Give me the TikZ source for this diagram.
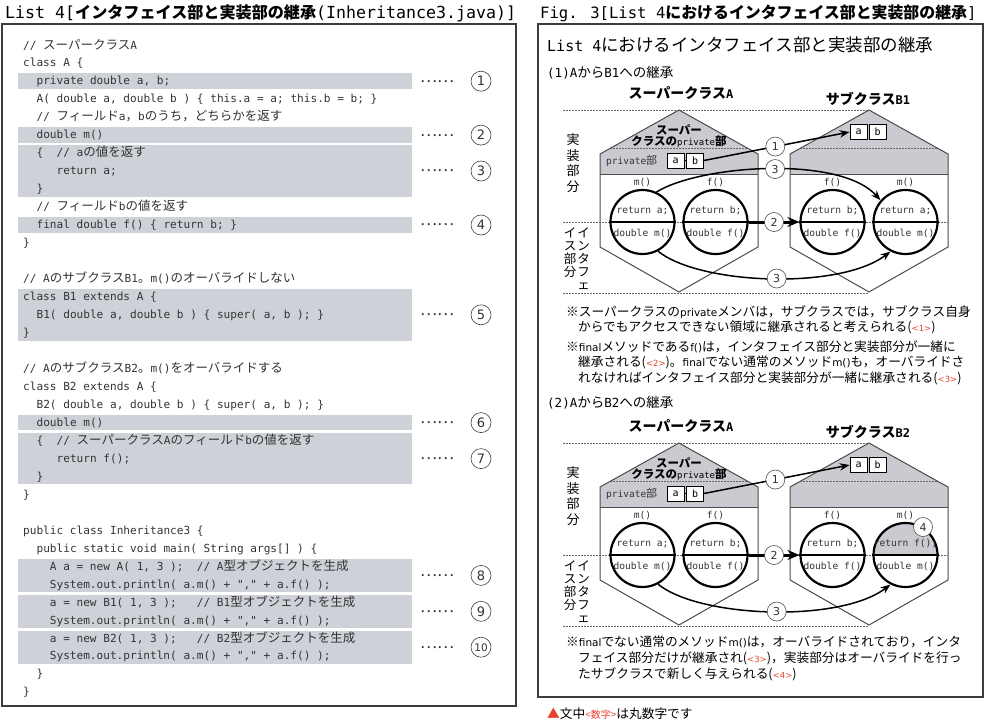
\documentclass[tikz,border=0pt]{standalone}
\usepackage{fontspec}
\setmainfont{DejaVu Sans}
\newfontfamily\cjk{Noto Sans CJK JP}
\newfontfamily\mono{DejaVu Sans Mono}
\newfontfamily\sansf{DejaVu Sans}
\usetikzlibrary{arrows.meta}
\definecolor{codec}{HTML}{333333}
\definecolor{barc}{HTML}{CED1D8}
\definecolor{roofc}{HTML}{C9CBD0}
\definecolor{redc}{HTML}{E8412C}
\definecolor{framec}{HTML}{3C3C3C}
\newcommand\J[1]{{\cjk\fontsize{12.5}{12.5}\selectfont #1}}
\newcommand\JT[1]{{\cjk\bfseries\fontsize{16.1}{16.1}\selectfont #1}}
\newcommand\JTR[1]{{\cjk\bfseries\fontsize{15.9}{15.9}\selectfont #1}}
\newcommand\JI[1]{{\cjk\fontsize{17.5}{17.5}\selectfont #1}}
\newcommand\JS[1]{{\cjk\fontsize{13.5}{13.5}\selectfont #1}}
\newcommand\JP[1]{{\cjk\fontsize{11}{11}\selectfont #1}}
\newcommand\M[1]{{\sansf\fontsize{10.5}{12}\selectfont #1}}
\newcommand\RR[1]{{\sansf\fontsize{8.5}{10}\selectfont\color{redc}#1}}
\newcommand\housepath[1]{({#1-79},154) -- (#1,110) -- ({#1+79},154) -- ({#1+79},247) -- (#1,292) -- ({#1-79},247) -- cycle}
\tikzset{
 code/.style={anchor=base west, inner sep=0pt, text=codec, font=\mono\fontsize{11.1}{13}\selectfont},
 bar/.style={fill=barc, draw=none},
 cnum/.style={circle, draw=black!75, line width=0.6pt, minimum size=20pt, inner sep=0pt, font=\sansf\fontsize{13}{13}\selectfont, text=codec},
 leader/.style={inner sep=0pt, font=\cjk\fontsize{16}{16}\selectfont, text=codec},
 guide/.style={draw=black!60, line width=0.6pt, dash pattern=on 1.6pt off 1.4pt},
 houseline/.style={draw=black!70, line width=1pt},
 cir/.style={circle, draw=black, line width=2.2pt, minimum size=64pt, inner sep=0pt},
 ctext/.style={inner sep=0pt, font=\mono\fontsize{9.6}{10}\selectfont, text=codec},
 vbox/.style={draw=black, fill=white, line width=0.9pt, minimum width=17pt, minimum height=15pt, inner sep=0pt, font=\mono\fontsize{10}{10}\selectfont},
 dnum/.style={circle, draw=black!70, fill=white, line width=0.6pt, minimum size=19pt, inner sep=0pt, font=\sansf\fontsize{11}{11}\selectfont, text=codec},
 arr/.style={line width=1.5pt, -{Stealth[length=10pt,width=7.5pt]}},
 arrb/.style={line width=3pt, -{Stealth[length=12pt,width=10pt]}},
 note/.style={anchor=base west, inner sep=0pt, font=\cjk\fontsize{12.7}{14}\selectfont, text=black},
 hdr/.style={inner sep=0pt, font=\cjk\bfseries\fontsize{14}{14}\selectfont},
 rooft/.style={inner sep=0pt, font=\cjk\bfseries\fontsize{11.5}{11.5}\selectfont},
 ttl/.style={anchor=base west, inner sep=0pt, font=\mono\fontsize{15}{15}\selectfont},
}
\newcommand\drawdiag[4]{%
 \draw[guide] (563,110) -- (868,110);
 \draw[guide] (563,293) -- (868,293);
 \fill[white] \housepath{679};
 \fill[white] \housepath{869};
 \begin{scope}
  \clip \housepath{679};
  \fill[roofc] (595,105) rectangle (765,174);
  \draw[guide] (595,148) -- (765,148);
 \end{scope}
 \begin{scope}
  \clip \housepath{869};
  \fill[roofc] (785,105) rectangle (955,174);
  \draw[guide] (785,148) -- (955,148);
 \end{scope}
 \draw[houseline] (600,174) -- (758,174);
 \draw[houseline] (790,174) -- (948,174);
 \draw[houseline] \housepath{679};
 \draw[houseline] \housepath{869};
 \draw[guide] (563,222) -- (948,222);
 #4
 \node[cir] (#1Lm) at (642.5,222) {};
 \node[cir] (#1Lf) at (715.5,222) {};
 \node[cir] (#1Rf) at (832.5,222) {};
 \node[cir] (#1Rm) at (905.5,222) {};
 \draw[line width=2.2pt] (#1Lm.west) -- (#1Lm.east);
 \draw[line width=2.2pt] (#1Lf.west) -- (#1Lf.east);
 \draw[line width=2.2pt] (#1Rf.west) -- (#1Rf.east);
 \draw[line width=2.2pt] (#1Rm.west) -- (#1Rm.east);
 \node[ctext] (#1Lmt) at (642.5,211) {return a;};
 \node[ctext] (#1Lmb) at (642.5,233) {double m()};
 \node[ctext] (#1Lft) at (715.5,211) {return b;};
 \node[ctext] (#1Lfb) at (715.5,233) {double f()};
 \node[ctext] (#1Rft) at (832.5,211) {return b;};
 \node[ctext] (#1Rfb) at (832.5,233) {double f()};
 \node[ctext] (#1Rmt) at (905.5,211) {#3};
 \node[ctext] (#1Rmb) at (905.5,233) {double m()};
 \node[ctext] (#1Lml) at (642.5,182) {m()};
 \node[ctext] (#1Lfl) at (715.5,182) {f()};
 \node[ctext] (#1Rfl) at (832.5,182) {f()};
 \node[ctext] (#1Rml) at (905.5,182) {m()};
 \node[anchor=west, inner sep=0pt, text=codec, font=\mono\fontsize{9.5}{10}\selectfont] (#1pl) at (606,161) {private\JP{部}};
 \node[vbox] (#1pa) at (675.5,160.5) {a};
 \node[vbox] (#1pb) at (695,160.5) {b};
 \draw[line width=0.8pt] (#1pa.east) -- (#1pb.west);
 \node[vbox] (#1sa) at (858.5,132) {a};
 \node[vbox] (#1sb) at (877.5,132) {b};
 \node[rooft] (#1r1) at (679,130) {スーパー};
 \node[rooft] (#1r2) at (679,142) {クラスの{\mono\mdseries\fontsize{9}{9}\selectfont private}部};
 \node[hdr] (#1hA) at (681,93) {スーパークラス{\mono\bfseries\fontsize{12}{12}\selectfont A}};
 \node[hdr] (#1hB) at (868,99) {サブクラス{\mono\bfseries\fontsize{12}{12}\selectfont #2}};
 \node[inner sep=0pt, align=center, font=\cjk\fontsize{13}{15.6}\selectfont] (#1v1) at (573,163) {実\\装\\部\\分};
 \node[inner sep=0pt, align=center, font=\cjk\fontsize{12.5}{13}\selectfont] (#1v2) at (583.5,259) {イ\\ン\\タ\\フ\\ェ};
 \node[inner sep=0pt, align=center, font=\cjk\fontsize{12.5}{13}\selectfont] (#1v3) at (570,252.5) {イ\\ス\\部\\分};
 \draw[arr] (#1pb.east) -- node[dnum, pos=0.49] (#1n1) {1} (#1sa.west);
 \draw[arrb] (#1Lf.east) -- node[dnum] (#1n2) {2} (#1Rf.west);
 \draw[arr] (#1Lm.-62) .. controls (700,285) and (840,290) .. node[dnum, pos=0.52] (#1n3) {3} (#1Rm.-117);
}
\begin{document}
\begin{tikzpicture}[x=1pt,y=-1pt]
\useasboundingbox (0,0) rectangle (987,720);
% ---------- left panel ----------
\node[ttl, font=\mono\fontsize{16.6}{16.6}\selectfont] (T1) at (5,18) {List 4[\JT{インタフェイス部と実装部の継承}(Inheritance3.java)]};
\draw[framec, line width=1.3pt] (2,24) rectangle (516,706);
\fill[bar] (18,73.44) rectangle (412,88.94);
\fill[bar] (18,127.35) rectangle (412,142.85);
\fill[bar] (18,145.32) rectangle (412,196.76);
\fill[bar] (18,217.2) rectangle (412,232.7);
\fill[bar] (18,289.08) rectangle (412,340.52);
\fill[bar] (18,414.87) rectangle (412,430.37);
\fill[bar] (18,432.84) rectangle (412,484.28);
\fill[bar] (18,558.63) rectangle (412,592.1);
\fill[bar] (18,594.57) rectangle (412,628.04);
\fill[bar] (18,630.51) rectangle (412,663.98);
\node[code] (L1) at (23,49.0) {// \J{スーパークラス}A};
\node[code] (L2) at (23,66.97) {class A \{};
\node[code] (L3) at (36.4,84.94) {private double a, b;};
\node[code] (L4) at (36.4,102.91) {A( double a, double b ) \{ this.a = a; this.b = b; \}};
\node[code] (L5) at (36.4,120.88) {// \J{フィールド}a\J{，}b\J{のうち，どちらかを返す}};
\node[code] (L6) at (36.4,138.85) {double m()};
\node[code] (L7) at (36.4,156.82) {\{~~// a\J{の値を返す}};
\node[code] (L8) at (56.5,174.79) {return a;};
\node[code] (L9) at (36.4,192.76) {\}};
\node[code] (L10) at (36.4,210.73) {// \J{フィールド}b\J{の値を返す}};
\node[code] (L11) at (36.4,228.7) {final double f() \{ return b; \}};
\node[code] (L12) at (23,246.67) {\}};
\node[code] (L14) at (23,282.61) {// A\J{のサブクラス}B1\J{。}m()\J{のオーバライドしない}};
\node[code] (L15) at (23,300.58) {class B1 extends A \{};
\node[code] (L16) at (36.4,318.55) {B1( double a, double b ) \{ super( a, b ); \}};
\node[code] (L17) at (23,336.52) {\}};
\node[code] (L19) at (23,372.46) {// A\J{のサブクラス}B2\J{。}m()\J{をオーバライドする}};
\node[code] (L20) at (23,390.43) {class B2 extends A \{};
\node[code] (L21) at (36.4,408.4) {B2( double a, double b ) \{ super( a, b ); \}};
\node[code] (L22) at (36.4,426.37) {double m()};
\node[code] (L23) at (36.4,444.34) {\{~~// \J{スーパークラス}A\J{のフィールド}b\J{の値を返す}};
\node[code] (L24) at (56.5,462.31) {return f();};
\node[code] (L25) at (36.4,480.28) {\}};
\node[code] (L26) at (23,498.25) {\}};
\node[code] (L28) at (23,534.19) {public class Inheritance3 \{};
\node[code] (L29) at (36.4,552.16) {public static void main( String args[] ) \{};
\node[code] (L30) at (49.7,570.13) {A a = new A( 1, 3 );~~// A\J{型オブジェクトを生成}};
\node[code] (L31) at (49.7,588.1) {System.out.println( a.m() + "," + a.f() );};
\node[code] (L32) at (49.7,606.07) {a = new B1( 1, 3 );~~~// B1\J{型オブジェクトを生成}};
\node[code] (L33) at (49.7,624.04) {System.out.println( a.m() + "," + a.f() );};
\node[code] (L34) at (49.7,642.01) {a = new B2( 1, 3 );~~~// B2\J{型オブジェクトを生成}};
\node[code] (L35) at (49.7,659.98) {System.out.println( a.m() + "," + a.f() );};
\node[code] (L36) at (36.4,677.95) {\}};
\node[code] (L37) at (23,695.92) {\}};
\node[leader] (D1) at (437,81.2) {……};
\node[leader] (D2) at (437,135.1) {……};
\node[leader] (D3) at (437,171) {……};
\node[leader] (D4) at (437,225) {……};
\node[leader] (D5) at (437,314.8) {……};
\node[leader] (D6) at (437,422.6) {……};
\node[leader] (D7) at (437,458.6) {……};
\node[leader] (D8) at (437,575.4) {……};
\node[leader] (D9) at (437,611.3) {……};
\node[leader] (D10) at (437,647.2) {……};
\node[cnum] (C1) at (481,81.2) {1};
\node[cnum] (C2) at (481,135.1) {2};
\node[cnum] (C3) at (481,171) {3};
\node[cnum] (C4) at (481,225) {4};
\node[cnum] (C5) at (481,314.8) {5};
\node[cnum] (C6) at (481,422.6) {6};
\node[cnum] (C7) at (481,458.6) {7};
\node[cnum] (C8) at (481,575.4) {8};
\node[cnum] (C9) at (481,611.3) {9};
\node[cnum, font=\sansf\fontsize{10.5}{10.5}\selectfont] (C10) at (481,647.2) {10};
% ---------- right panel ----------
\node[ttl, font=\mono\fontsize{15.6}{15.6}\selectfont] (T2) at (540,18) {Fig. 3[List 4\JTR{におけるインタフェイス部と実装部の継承}]};
\draw[framec, line width=1.3pt] (538,24) rectangle (983,697);
\node[ttl] (T3) at (547,51) {List 4\JI{におけるインタフェイス部と実装部の継承}};
\node[anchor=base west, inner sep=0pt, font=\mono\fontsize{12.5}{12.5}\selectfont] (S1) at (547,77) {(1)A\JS{から}B1\JS{への継承}};
\drawdiag{d1}{B1}{return a;}{}
\draw[arr] (d1Lm.65) .. controls (700,165) and (840,155) .. node[dnum, pos=0.52] (d1n3u) {3} (d1Rm.139);
\node[note] (N1) at (566,316.5) {※スーパークラスの\M{private}メンバは，サブクラスでは，サブクラス自身};
\node[note] (N2) at (578,331.5) {からでもアクセスできない領域に継承されると考えられる(\RR{<1>})};
\node[note] (N3) at (566,351.7) {※\M{final}メソッドである\M{f()}は，インタフェイス部分と実装部分が一緒に};
\node[note] (N4) at (578,366.7) {継承される(\RR{<2>})。\M{final}でない通常のメソッド\M{m()}も，オーバライドさ};
\node[note] (N5) at (578,382.3) {れなければインタフェイス部分と実装部分が一緒に継承される(\RR{<3>})};
\node[anchor=base west, inner sep=0pt, font=\mono\fontsize{12.5}{12.5}\selectfont] (S2) at (547,407.5) {(2)A\JS{から}B2\JS{への継承}};
\begin{scope}[shift={(0,333)}]
\drawdiag{d2}{B2}{return f();}{\begin{scope}\clip (870,186) rectangle (942,222); \fill[roofc] (905.5,222) circle[radius=32pt]; \end{scope}}
\node[dnum] (d2n4) at (923,194) {4};
\end{scope}
\node[note] (N6) at (566,646.7) {※\M{final}でない通常のメソッド\M{m()}は，オーバライドされており，インタ};
\node[note] (N7) at (578,662.7) {フェイス部分だけが継承され(\RR{<3>})，実装部分はオーバライドを行っ};
\node[note] (N8) at (578,678.3) {たサブクラスで新しく与えられる(\RR{<4>})};
\node[note] (F1) at (547,718) {{\color{redc}▲}文中{\color{redc}\fontsize{10}{10}\selectfont<数字>}は丸数字です};
\end{tikzpicture}
\end{document}
